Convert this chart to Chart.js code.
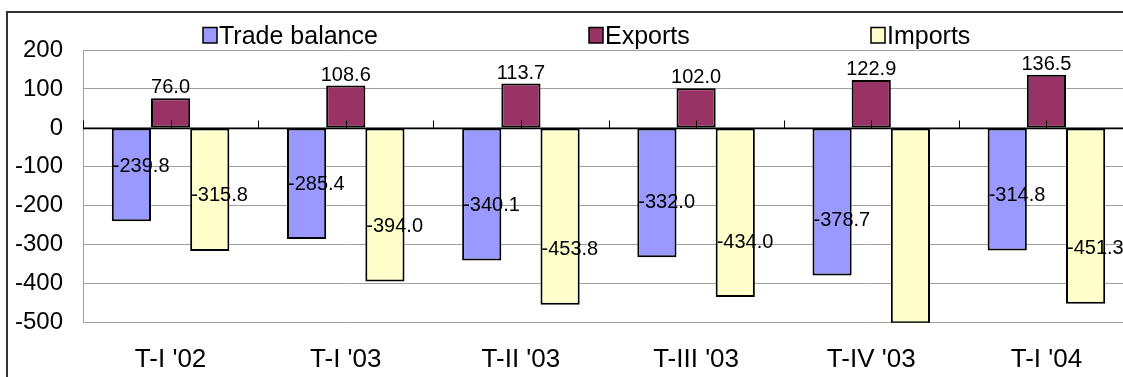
<!DOCTYPE html>
<html>
<head>
<meta charset="utf-8">
<script src="https://cdn.jsdelivr.net/npm/chart.js@4.4.0/dist/chart.umd.min.js"></script>
<style>
  html, body { margin: 0; padding: 0; background: #fff; overflow: hidden; }
  #wrap { width: 1136px; height: 377px; }
</style>
</head>
<body>
<div id="wrap"><canvas id="c" width="1136" height="377"></canvas></div>
<script>
// Quarterly trade figures
const categories   = ["T-I '02", "T-I '03", "T-II '03", "T-III '03", "T-IV '03", "T-I '04"];
const tradeBalance = [-239.8, -285.4, -340.1, -332.0, -378.7, -314.8];
const exportsVals  = [76.0, 108.6, 113.7, 102.0, 122.9, 136.5];
const importsVals  = [-315.8, -394.0, -453.8, -434.0, -501.6, -451.3];
const seriesNames  = ["Trade balance", "Exports", "Imports"];
const yMin = -500, yMax = 200, yStep = 100;

const FONT = "'Liberation Sans', Arial, sans-serif";
const colors = ['#9999FF', '#993366', '#FFFFCC'];

// Outer frame (top and left edges of the chart box)
const framePlugin = {
  id: 'frame',
  beforeDraw(chart) {
    const ctx = chart.ctx;
    ctx.save();
    ctx.fillStyle = '#fff';
    ctx.fillRect(0, 0, chart.width, chart.height);
    ctx.strokeStyle = '#333';
    ctx.lineWidth = 2;
    ctx.beginPath();
    ctx.moveTo(7, chart.height + 5);
    ctx.lineTo(7, 12);
    ctx.lineTo(chart.width + 5, 12);
    ctx.stroke();
    ctx.restore();
  }
};

// Category axis line at zero with tick marks at boundaries and centres
const zeroAxisPlugin = {
  id: 'zeroAxis',
  afterDatasetsDraw(chart) {
    const { ctx, chartArea, scales } = chart;
    const y0 = Math.round(scales.y.getPixelForValue(0)) + 0.5;
    ctx.save();
    ctx.strokeStyle = '#000';
    ctx.lineWidth = 1.5;
    ctx.beginPath();
    ctx.moveTo(chartArea.left, y0);
    ctx.lineTo(chartArea.right, y0);
    ctx.stroke();
    ctx.lineWidth = 1;
    const n = categories.length;
    const half = (chartArea.right - chartArea.left) / n / 2;
    for (let i = 0; i <= n * 2; i++) {
      const x = Math.round(chartArea.left + i * half) + 0.5;
      ctx.beginPath();
      ctx.moveTo(x, y0);
      ctx.lineTo(x, y0 - 8);
      ctx.stroke();
    }
    ctx.restore();
  }
};

// Value labels on each bar
const valueLabelPlugin = {
  id: 'valueLabels',
  afterDatasetsDraw(chart) {
    const ctx = chart.ctx;
    const ys = chart.scales.y;
    ctx.save();
    ctx.fillStyle = '#000';
    ctx.font = `20px ${FONT}`;
    chart.data.datasets.forEach((ds, di) => {
      const meta = chart.getDatasetMeta(di);
      meta.data.forEach((bar, i) => {
        const v = ds.data[i];
        if (v < ys.min || v > ys.max) return;
        const txt = v.toFixed(1);
        if (v >= 0) {
          ctx.textAlign = 'center';
          ctx.textBaseline = 'alphabetic';
          ctx.fillText(txt, bar.x, bar.y - 5);
        } else {
          ctx.textAlign = 'left';
          ctx.textBaseline = 'middle';
          ctx.fillText(txt, bar.x - bar.width / 2 + 1, bar.y - 55);
        }
      });
    });
    ctx.restore();
  }
};

// Legend row above the plot
const legendPlugin = {
  id: 'legendRow',
  afterDraw(chart) {
    const ctx = chart.ctx;
    const xs = [203, 589, 871];
    ctx.save();
    ctx.font = `25px ${FONT}`;
    ctx.textAlign = 'left';
    ctx.textBaseline = 'alphabetic';
    chart.data.datasets.forEach((ds, i) => {
      const x = xs[i];
      ctx.fillStyle = ds.backgroundColor;
      ctx.fillRect(x, 27.5, 14, 15.5);
      ctx.strokeStyle = '#000';
      ctx.lineWidth = 1.5;
      ctx.strokeRect(x, 27.5, 14, 15.5);
      ctx.fillStyle = '#000';
      ctx.fillText(ds.label, x + 16, 44);
    });
    ctx.restore();
  }
};

const barStyle = {
  borderColor: '#000',
  borderWidth: 2,
  borderSkipped: false,
  categoryPercentage: 0.671,
  barPercentage: 1.0
};

new Chart(document.getElementById('c'), {
  type: 'bar',
  data: {
    labels: categories,
    datasets: [
      { label: seriesNames[0], data: tradeBalance, backgroundColor: colors[0], ...barStyle },
      { label: seriesNames[1], data: exportsVals,  backgroundColor: colors[1], ...barStyle },
      { label: seriesNames[2], data: importsVals,  backgroundColor: colors[2], ...barStyle }
    ]
  },
  options: {
    responsive: false,
    animation: false,
    devicePixelRatio: 1,
    layout: { padding: { top: 50, right: 2, left: 0, bottom: 0 } },
    plugins: {
      legend: { display: false },
      title: { display: false },
      tooltip: { enabled: false }
    },
    scales: {
      x: {
        grid: { display: false, drawTicks: false },
        border: { display: false },
        ticks: { color: '#000', font: { family: FONT, size: 26 }, padding: 22, maxRotation: 0 },
        afterFit(s) { s.height = 54.3; }
      },
      y: {
        min: yMin,
        max: yMax,
        ticks: { stepSize: yStep, color: '#000', font: { family: FONT, size: 24 }, padding: 20 },
        grid: { color: '#a0a0a0', lineWidth: 1, drawTicks: false },
        border: { display: true, color: '#a0a0a0', width: 1 },
        afterFit(s) { s.width = 83; }
      }
    }
  },
  plugins: [framePlugin, zeroAxisPlugin, valueLabelPlugin, legendPlugin]
});
</script>
</body>
</html>
